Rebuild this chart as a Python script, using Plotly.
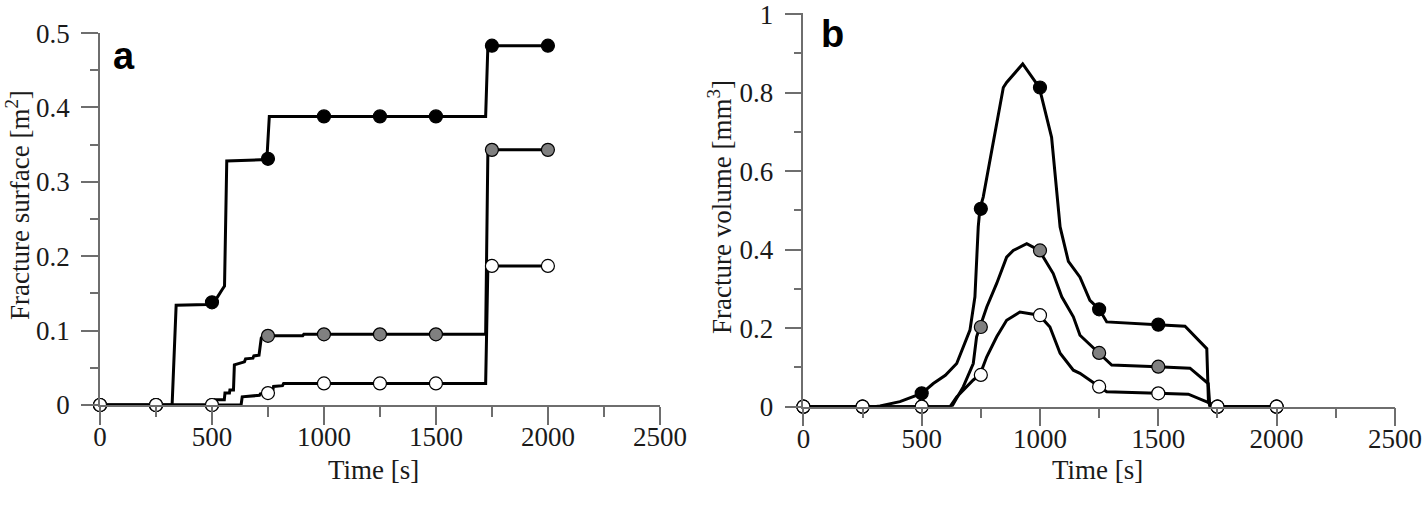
import plotly.graph_objects as go

W, H = 1427, 507

# ---------------- Data ----------------
marker_time = [0, 250, 500, 750, 1000, 1250, 1500, 1750, 2000]

# Panel a: fracture surface [m2]
a_black_t = [0, 322, 340, 480, 500, 520, 545, 556, 566, 745, 756, 1722, 1732, 2000]
a_black_v = [0, 0, 0.134, 0.135, 0.138, 0.143, 0.155, 0.16, 0.328, 0.33, 0.388, 0.388, 0.483, 0.483]
a_gray_t = [0, 513, 515, 555, 558, 578, 580, 596, 600, 645, 650, 683, 687, 710, 720, 725, 750, 905, 910, 1722, 1732, 2000]
a_gray_v = [0, 0, 0.007, 0.007, 0.016, 0.016, 0.02, 0.02, 0.054, 0.058, 0.062, 0.063, 0.066, 0.067, 0.09, 0.092, 0.093, 0.093, 0.095, 0.095, 0.343, 0.343]
a_white_t = [0, 630, 635, 712, 716, 750, 770, 775, 815, 820, 1722, 1732, 2000]
a_white_v = [0, 0, 0.011, 0.013, 0.015, 0.016, 0.018, 0.025, 0.026, 0.029, 0.029, 0.187, 0.187]

a_black_m = [0, 0, 0.138, 0.331, 0.388, 0.388, 0.388, 0.483, 0.483]
a_gray_m = [0, 0, 0, 0.093, 0.095, 0.095, 0.095, 0.343, 0.343]
a_white_m = [0, 0, 0, 0.016, 0.029, 0.029, 0.029, 0.187, 0.187]

# Panel b: fracture volume [mm3]
b_black_t = [0, 300, 324, 408, 500, 549, 600, 648, 704, 725, 739, 746, 760, 845, 859, 927, 997, 1049,
             1085, 1120, 1169, 1211, 1251, 1282, 1496, 1613, 1705, 1712, 1720, 2000]
b_black_v = [0, 0, 0.002, 0.013, 0.034, 0.059, 0.08, 0.11, 0.195, 0.28, 0.458, 0.504, 0.534, 0.813, 0.826,
             0.873, 0.813, 0.686, 0.458, 0.37, 0.33, 0.271, 0.248, 0.216, 0.209, 0.205, 0.148, 0.013, 0, 0]
b_gray_t = [0, 627, 676, 718, 732, 746, 775, 817, 859, 887, 944, 997, 1056, 1092, 1141, 1169, 1251, 1303,
            1496, 1634, 1711, 1718, 2000]
b_gray_v = [0, 0, 0.051, 0.11, 0.178, 0.203, 0.254, 0.314, 0.381, 0.398, 0.415, 0.398, 0.339, 0.28, 0.229,
            0.182, 0.137, 0.106, 0.102, 0.098, 0.059, 0, 0]
b_white_t = [0, 620, 648, 718, 746, 775, 817, 859, 915, 997, 1042, 1085, 1141, 1169, 1251, 1282, 1496,
             1627, 1718, 1750, 2000]
b_white_v = [0, 0, 0.025, 0.068, 0.081, 0.127, 0.178, 0.22, 0.241, 0.233, 0.203, 0.136, 0.093, 0.085,
             0.051, 0.038, 0.034, 0.032, 0.009, 0, 0]

b_black_m = [0, 0, 0.034, 0.504, 0.813, 0.248, 0.209, 0, 0]
b_gray_m = [0, 0, 0, 0.203, 0.398, 0.137, 0.102, 0, 0]
b_white_m = [0, 0, 0, 0.081, 0.233, 0.051, 0.034, 0, 0]

x_ticks = [0, 500, 1000, 1500, 2000, 2500]
a_y_ticks = [0, 0.1, 0.2, 0.3, 0.4, 0.5]
b_y_ticks = [0.0, 0.2, 0.4, 0.6, 0.8, 1.0]
b_y_labels = ["0", "0.2", "0.4", "0.6", "0.8", "1"]

fill_colors = {"black": "#000000", "gray": "#808080", "white": "#ffffff"}

# ---------------- Figure ----------------
fig = go.Figure()

def add_panel(xa, ya, lines, markers):
    for t, v in lines:
        fig.add_trace(go.Scatter(x=t, y=v, mode="lines", xaxis=xa, yaxis=ya,
                                 line=dict(color="black", width=3), cliponaxis=False,
                                 showlegend=False, hoverinfo="skip"))
    for name, m in markers:
        fig.add_trace(go.Scatter(x=marker_time, y=m, mode="markers", xaxis=xa, yaxis=ya,
                                 marker=dict(size=13, color=fill_colors[name],
                                             line=dict(color="black", width=1.2)),
                                 cliponaxis=False, showlegend=False))

add_panel("x", "y",
          [(a_black_t, a_black_v), (a_gray_t, a_gray_v), (a_white_t, a_white_v)],
          [("black", a_black_m), ("gray", a_gray_m), ("white", a_white_m)])
add_panel("x2", "y2",
          [(b_black_t, b_black_v), (b_gray_t, b_gray_v), (b_white_t, b_white_v)],
          [("black", b_black_m), ("gray", b_gray_m), ("white", b_white_m)])

AX = "#6e6e6e"
tick_font = dict(family="Liberation Serif", size=27, color="#1a1a1a")

def xaxis(domain, anchor):
    return dict(domain=domain, anchor=anchor, range=[0, 2500.5], tickvals=x_ticks,
                ticks="outside", ticklen=18, tickwidth=1.5, tickcolor=AX,
                showline=True, linecolor=AX, linewidth=1.5, showgrid=False, zeroline=False,
                tickfont=tick_font, automargin=False, ticklabelstandoff=-11,
                ticklabeloverflow="allow",
                minor=dict(tickvals=[250, 750, 1250, 1750, 2250], ticks="outside", ticklen=10,
                           tickwidth=1.5, tickcolor=AX, showgrid=False))

def yaxis(domain, anchor, rng, tv, tt, minor_vals):
    return dict(domain=domain, anchor=anchor, range=rng, tickvals=tv, ticktext=tt,
                ticks="outside", ticklen=17, tickwidth=1.5, tickcolor=AX,
                showline=True, linecolor=AX, linewidth=1.5, showgrid=False, zeroline=False,
                tickfont=tick_font, automargin=False, ticklabelstandoff=6,
                ticklabeloverflow="allow",
                minor=dict(tickvals=minor_vals, ticks="outside", ticklen=8,
                           tickwidth=1.5, tickcolor=AX, showgrid=False))

fig.update_layout(
    width=W, height=H,
    margin=dict(l=0, r=0, t=0, b=0),
    paper_bgcolor="white", plot_bgcolor="white",
    xaxis=xaxis([100 / W, 660 / W], "y"),
    yaxis=yaxis([(H - 405) / H, (H - 33) / H], "x", [0, 0.5001], a_y_ticks,
                ["0", "0.1", "0.2", "0.3", "0.4", "0.5"], [0.05, 0.15, 0.25, 0.35, 0.45]),
    xaxis2=xaxis([803.4 / W, 1395 / W], "y2"),
    yaxis2=yaxis([(H - 406.7) / H, (H - 13.3) / H], "x2", [0, 1.002], b_y_ticks, b_y_labels,
                 [0.1, 0.3, 0.5, 0.7, 0.9]),
)

title_font = dict(family="Liberation Serif", size=27, color="#1a1a1a")
annots = [
    dict(text="Time [s]", x=373 / W, y=(H - 470) / H),
    dict(text="Time [s]", x=1097 / W, y=(H - 470) / H),
    dict(text="Fracture surface [m<sup>2</sup>]", x=18 / W, y=(H - 205) / H, textangle=-90),
    dict(text="Fracture volume [mm<sup>3</sup>]", x=720 / W, y=(H - 207) / H, textangle=-90),
]
for a in annots:
    fig.add_annotation(xref="paper", yref="paper", showarrow=False, font=title_font,
                       xanchor="center", yanchor="middle", **a)

label_font = dict(family="Liberation Sans", size=38, color="black")
fig.add_annotation(text="<b>a</b>", xref="paper", yref="paper", x=124 / W, y=(H - 56) / H,
                   showarrow=False, font=label_font, xanchor="center", yanchor="middle")
fig.add_annotation(text="<b>b</b>", xref="paper", yref="paper", x=832 / W, y=(H - 34) / H,
                   showarrow=False, font=label_font, xanchor="center", yanchor="middle")

fig.write_html("out.html", config={"displayModeBar": False},
               post_script="document.body.style.margin='0px';")
